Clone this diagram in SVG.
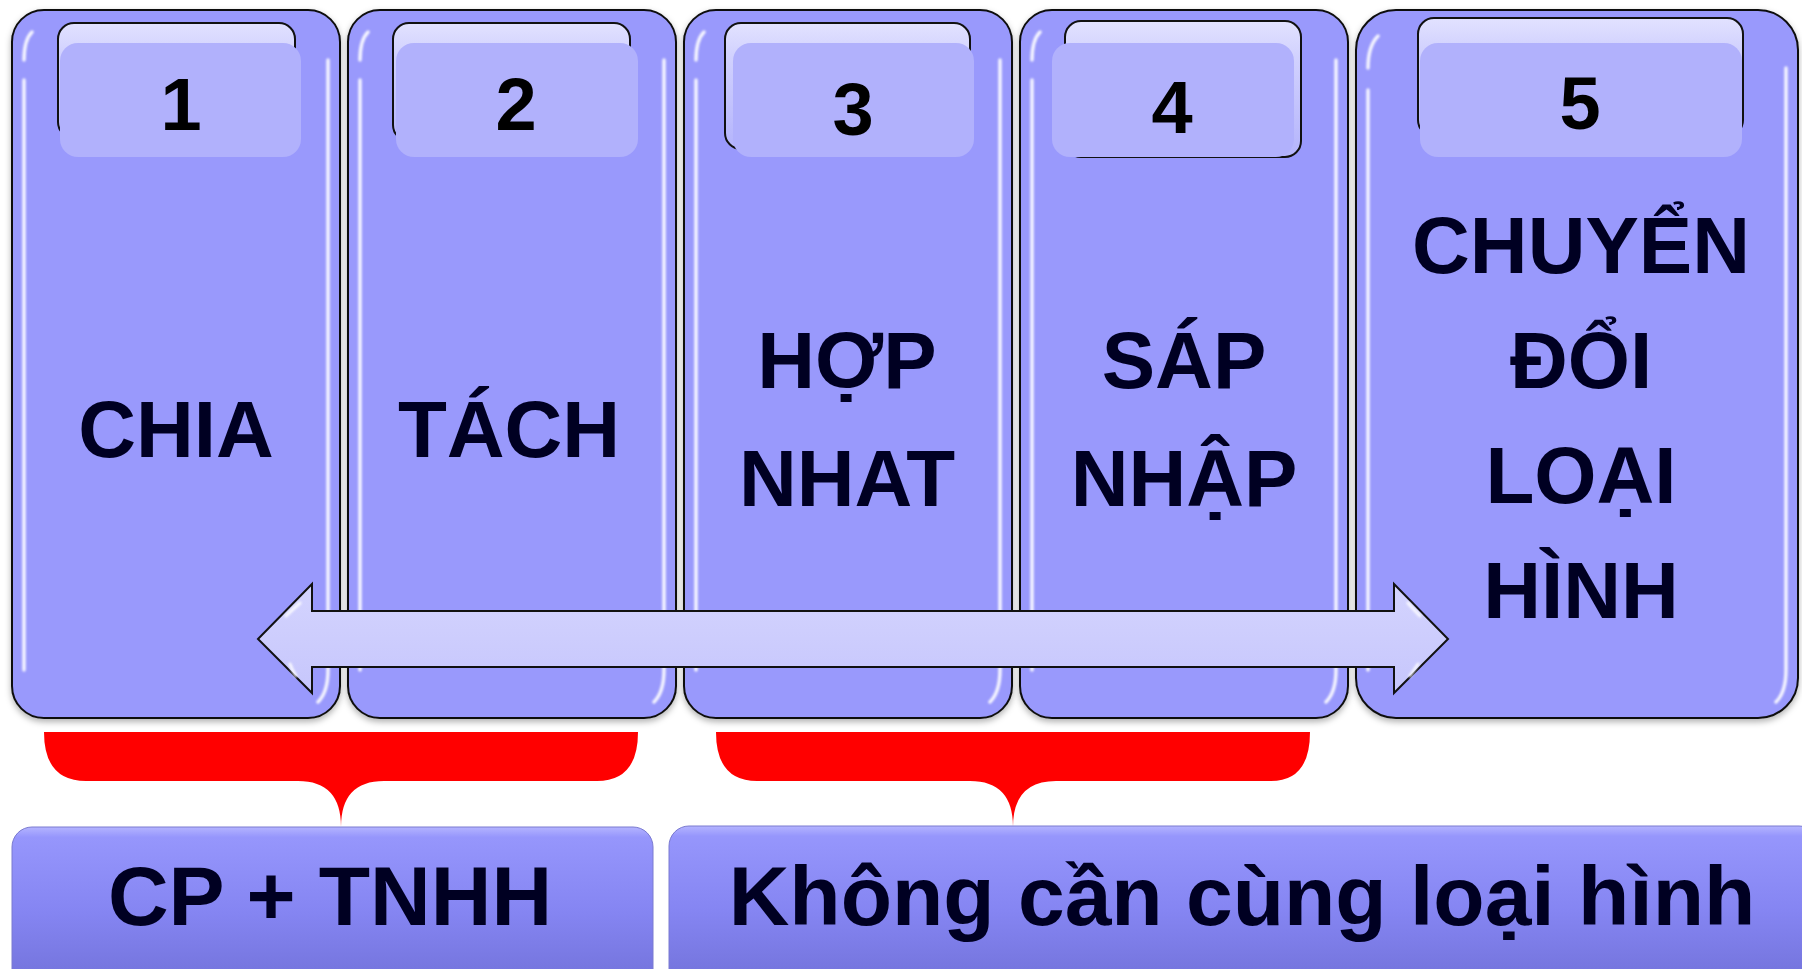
<svg xmlns="http://www.w3.org/2000/svg" width="1802" height="969" viewBox="0 0 1802 969">
<defs>
<linearGradient id="tabG" x1="0" y1="0" x2="0" y2="1">
<stop offset="0" stop-color="#e2e2ff"/><stop offset="0.25" stop-color="#d2d2fe"/><stop offset="1" stop-color="#b4b4fc"/>
</linearGradient>
<linearGradient id="boxG" x1="0" y1="0" x2="0" y2="1">
<stop offset="0" stop-color="#b4b4ff"/><stop offset="0.06" stop-color="#9696fc"/><stop offset="0.5" stop-color="#8585f2"/><stop offset="1" stop-color="#6f6fd6"/>
</linearGradient>
<linearGradient id="arrG" x1="0" y1="0" x2="0" y2="1">
<stop offset="0" stop-color="#d4d4fe"/><stop offset="1" stop-color="#c6c6fc"/>
</linearGradient>
<filter id="sh" x="-5%" y="-5%" width="110%" height="110%">
<feDropShadow dx="0" dy="3" stdDeviation="3" flood-color="#000" flood-opacity="0.3"/>
</filter>
<filter id="bl" x="-50%" y="-5%" width="200%" height="110%">
<feGaussianBlur stdDeviation="0.8"/>
</filter>
</defs>
<style>
.col{fill:#9999fc;stroke:#111;stroke-width:2}
.hl{fill:none;stroke:#fff;stroke-width:3.5;stroke-linecap:round;opacity:0.9}
.tabBack{fill:url(#tabG);stroke:#111;stroke-width:2}
.tabFront{fill:#b1b1fc}
.num{font-family:"Liberation Sans",Arial,sans-serif;font-weight:bold;font-size:74px;fill:#000;text-anchor:middle}
.lbl{font-family:"Liberation Sans",Arial,sans-serif;font-weight:bold;font-size:80px;fill:#000022;text-anchor:middle}
.big{font-family:"Liberation Sans",Arial,sans-serif;font-weight:bold;font-size:84px;fill:#000022;text-anchor:middle}
.box{fill:url(#boxG);stroke:#7a7ad0;stroke-width:1}
.brace{fill:#ff0000}
.arrow{fill:url(#arrG);stroke:#111;stroke-width:2;stroke-linejoin:miter}
.gl{fill:none;stroke:#fff;stroke-width:3;stroke-linecap:round;opacity:0.85}
</style>
<rect width="1802" height="969" fill="#fff"/>

<g id="step1">
<rect class="col" x="12" y="10" width="328" height="708" rx="32" filter="url(#sh)"/>
<path class="hl" filter="url(#bl)" d="M24,60 Q24,40 32,32 M24,80 V670 M328,60 V670 Q328,692 318,702"/>
<rect class="tabBack" x="58" y="23" width="237" height="115" rx="16"/>
<rect class="tabFront" x="60" y="43" width="241" height="114" rx="18"/>
<text class="num" x="181" y="130">1</text>
<text class="lbl" x="176" y="457">CHIA</text>
</g>

<g id="step2">
<rect class="col" x="348" y="10" width="328" height="708" rx="32" filter="url(#sh)"/>
<path class="hl" filter="url(#bl)" d="M360,60 Q360,40 368,32 M360,80 V670 M664,60 V670 Q664,692 654,702"/>
<rect class="tabBack" x="393" y="23" width="237" height="118" rx="16"/>
<rect class="tabFront" x="396" y="43" width="242" height="114" rx="18"/>
<text class="num" x="516" y="130">2</text>
<text class="lbl" x="509" y="457">TÁCH</text>
</g>

<g id="step3">
<rect class="col" x="684" y="10" width="328" height="708" rx="32" filter="url(#sh)"/>
<path class="hl" filter="url(#bl)" d="M696,60 Q696,40 704,32 M696,80 V670 M1000,60 V670 Q1000,692 990,702"/>
<rect class="tabBack" x="725" y="23" width="245" height="126" rx="16"/>
<rect class="tabFront" x="733" y="43" width="241" height="114" rx="18"/>
<text class="num" x="853" y="135">3</text>
<text class="lbl" x="847" y="388">HỢP</text>
<text class="lbl" x="847" y="506">NHAT</text>
</g>

<g id="step4">
<rect class="col" x="1020" y="10" width="328" height="708" rx="32" filter="url(#sh)"/>
<path class="hl" filter="url(#bl)" d="M1032,60 Q1032,40 1040,32 M1032,80 V670 M1336,60 V670 Q1336,692 1326,702"/>
<rect class="tabBack" x="1065" y="21" width="236" height="136" rx="16"/>
<rect class="tabFront" x="1052" y="43" width="242" height="114" rx="18"/>
<text class="num" x="1172" y="133">4</text>
<text class="lbl" x="1184" y="388">SÁP</text>
<text class="lbl" x="1184" y="506">NHẬP</text>
</g>

<g id="step5">
<rect class="col" x="1356" y="10" width="442" height="708" rx="40" filter="url(#sh)"/>
<path class="hl" filter="url(#bl)" d="M1368,68 Q1368,46 1378,36 M1368,90 V670 M1786,68 V670 Q1786,692 1776,702"/>
<rect class="tabBack" x="1418" y="18" width="325" height="118" rx="16"/>
<rect class="tabFront" x="1420" y="43" width="322" height="114" rx="18"/>
<text class="num" x="1580" y="129">5</text>
<text class="lbl" x="1581" y="273">CHUYỂN</text>
<text class="lbl" x="1581" y="388">ĐỔI</text>
<text class="lbl" x="1581" y="503">LOẠI</text>
<text class="lbl" x="1581" y="618">HÌNH</text>
</g>

<g id="connectors">
<path class="arrow" d="M258,639 L312,584 L312,611 L1394,611 L1394,584 L1448,639 L1394,693 L1394,667 L312,667 L312,693 Z"/>
<path class="gl" filter="url(#bl)" d="M300,603 Q292,610 286,616 M296,676 Q292,670 290,664 M1408,603 Q1414,610 1420,616 M1410,676 Q1414,670 1418,664"/>
<path class="brace" d="M44,732 H638 Q638,781 597,781 H384 Q341,781 341,827 Q341,781 298,781 H86 Q44,781 44,732 Z"/>
<path class="brace" d="M716,732 H1310 Q1310,781 1271,781 H1056 Q1013,781 1013,827 Q1013,781 970,781 H757 Q716,781 716,732 Z"/>
</g>

<g id="group1">
<rect class="box" x="12" y="827" width="641" height="170" rx="20"/>
<text class="big" x="330" y="925">CP + TNHH</text>
</g>

<g id="group2">
<rect class="box" x="669" y="826" width="1150" height="170" rx="20"/>
<text class="big" x="1242" y="925">Không cần cùng loại hình</text>
</g>
</svg>
